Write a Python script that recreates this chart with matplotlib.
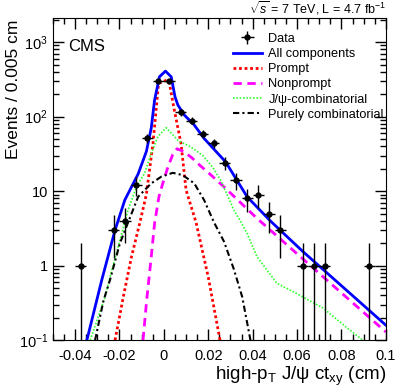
import numpy as np
import matplotlib
matplotlib.use("Agg")
import matplotlib.pyplot as plt
from matplotlib.ticker import FixedLocator, MultipleLocator, LogLocator, NullFormatter

plt.rcParams['font.family'] = ['Liberation Sans', 'DejaVu Sans']
plt.rcParams['mathtext.fontset'] = 'custom'
plt.rcParams['mathtext.rm'] = 'Liberation Sans'
plt.rcParams['mathtext.it'] = 'Liberation Sans:italic'

# data points (bin centres, counts)
data_x = [-0.0375, -0.0225, -0.0175, -0.0125, -0.0075, -0.0025, 0.0025, 0.0075,
          0.0125, 0.0175, 0.0225, 0.0275, 0.0325, 0.0375, 0.0425, 0.0475, 0.0525,
          0.0625, 0.0675, 0.0725, 0.0925]
data_y = [1, 3, 4, 12, 52, 300, 300, 114, 88, 59, 44, 24, 14, 8, 9, 5, 3, 1, 1, 1, 1]

# fit components
all_x = [-0.0347, -0.028, -0.022, -0.0176, -0.0116, -0.0079, -0.0057, -0.0042, -0.0020,
         0.0007, 0.0033, 0.0050, 0.0063, 0.0092, 0.0137, 0.0181, 0.0278, 0.0375, 0.0479,
         0.0628, 0.1]
all_y = [0.1, 0.64, 3.0, 7.6, 17, 34, 70, 166, 342, 408, 342, 185, 143, 105, 77, 51,
         24.7, 8.4, 4.0, 1.53, 0.159]

prompt_x = [-0.0220, -0.0183, -0.0146, -0.0109, -0.0079, -0.0049, -0.0024, 0.0015,
            0.0025, 0.0047, 0.0077, 0.0100, 0.0145, 0.0200, 0.0253]
prompt_y = [0.1, 0.38, 1.31, 3.7, 9, 44, 279, 310, 279, 122, 44, 10.3, 3.8, 0.7, 0.1]

nonprompt_x = [-0.0094, -0.0079, -0.0057, -0.0042, -0.0022, -0.0005, 0.0018, 0.0040,
               0.0059, 0.0092, 0.0129, 0.0152, 0.0204, 0.0271, 0.0420, 0.0717, 0.1000]
nonprompt_y = [0.1, 0.31, 1.31, 3.7, 8.5, 12.7, 21, 31, 37, 33.7, 27.5, 23.6, 17.3,
               11.4, 4.3, 0.71, 0.129]

jpsicomb_x = [-0.0332, -0.0265, -0.0235, -0.0198, -0.0161, -0.0124, -0.0087, -0.0057,
              -0.0027, 0.0010, 0.0063, 0.0122, 0.0176, 0.0219, 0.0256, 0.0315, 0.0353,
              0.0375, 0.0420, 0.0509, 0.0613, 0.0717, 0.0821, 0.0896]
jpsicomb_y = [0.1, 0.38, 0.87, 2.2, 5.6, 11.4, 17.3, 32, 54, 71, 48, 39, 30, 21, 14,
              5.6, 3.6, 2.7, 1.31, 0.58, 0.40, 0.27, 0.15, 0.1]

purecomb_x = [-0.031, -0.0272, -0.0243, -0.0198, -0.0116, -0.0057, -0.0012, 0.0040,
              0.0085, 0.0137, 0.0181, 0.0226, 0.0271, 0.0315, 0.0353, 0.039]
purecomb_y = [0.1, 0.34, 0.64, 2.0, 8.4, 12.7, 15.6, 17.6, 16.4, 12.7, 7.6, 3.8, 2.1,
              0.9, 0.38, 0.1]

xtick_vals = [-0.04, -0.02, 0, 0.02, 0.04, 0.06, 0.08, 0.1]
xtick_labels = ["-0.04", "-0.02", "0", "0.02", "0.04", "0.06", "0.08", "0.1"]
ytick_vals = [0.1, 1, 10, 100, 1000]
ytick_labels = ["$10^{-1}$", "1", "10", "$10^{2}$", "$10^{3}$"]

fig = plt.figure(figsize=(4.07, 3.91), dpi=100)
ax = fig.add_axes([0.130, 0.130, 0.818, 0.823])

bin_half = 0.0025
yerr = np.sqrt(data_y)
dat = ax.errorbar(data_x, data_y, xerr=bin_half, yerr=yerr, fmt='o', color='black',
                  ms=3.5, lw=1, capsize=0, zorder=5)
l_all, = ax.plot(all_x, all_y, color='#0000ff', lw=2, zorder=4)
l_pr, = ax.plot(prompt_x, prompt_y, color='#ff0000', lw=2, ls=(0, (1, 1)))
l_np, = ax.plot(nonprompt_x, nonprompt_y, color='#ff00ff', lw=2, ls=(0, (3, 2)))
l_jc, = ax.plot(jpsicomb_x, jpsicomb_y, color='#33ff33', lw=1.2, ls=(0, (1, 1)))
l_pc, = ax.plot(purecomb_x, purecomb_y, color='black', lw=1.5, ls=(0, (3, 1.5, 1, 1.5)))

ax.set_yscale('log')
ax.set_xlim(-0.05, 0.1)
ax.set_ylim(0.1, 2080)

ax.xaxis.set_major_locator(FixedLocator(xtick_vals))
ax.set_xticklabels(xtick_labels)
ax.xaxis.set_minor_locator(MultipleLocator(0.005))
ax.yaxis.set_major_locator(FixedLocator(ytick_vals))
ax.set_yticklabels(ytick_labels)
ax.yaxis.set_minor_locator(LogLocator(base=10, subs=np.arange(2, 10)))
ax.yaxis.set_minor_formatter(NullFormatter())

ax.tick_params(which='both', direction='in', top=True, right=True, labelsize=10.5)
ax.tick_params(which='major', length=8, width=1)
ax.tick_params(which='minor', length=4.5, width=1)
ax.tick_params(axis='x', pad=6)

ax.set_xlabel("high-p$_\\mathrm{T}$ J/ψ ct$_\\mathrm{xy}$ (cm)", fontsize=13.5, loc='right',
              labelpad=2)
ax.set_ylabel("Events / 0.005 cm", fontsize=12.5, loc='top')
ax.yaxis.set_label_coords(-0.095, 0.995)

ax.text(0.045, 0.935, "CMS", transform=ax.transAxes, fontsize=12, va='top', ha='left')
ax.text(1.0, 1.005, "$\\sqrt{s}$ = 7 TeV, L = 4.7 fb$^{-1}$", transform=ax.transAxes,
        fontsize=9, va='bottom', ha='right')

ax.legend([dat, l_all, l_pr, l_np, l_jc, l_pc],
          ['Data', 'All components', 'Prompt', 'Nonprompt', 'J/ψ-combinatorial',
           'Purely combinatorial'],
          loc='upper left', bbox_to_anchor=(0.54, 0.955), frameon=False, fontsize=9.2,
          handlelength=2.3, handletextpad=0.5, labelspacing=0.25, borderpad=0,
          borderaxespad=0)

fig.savefig("out.png", dpi=100)
